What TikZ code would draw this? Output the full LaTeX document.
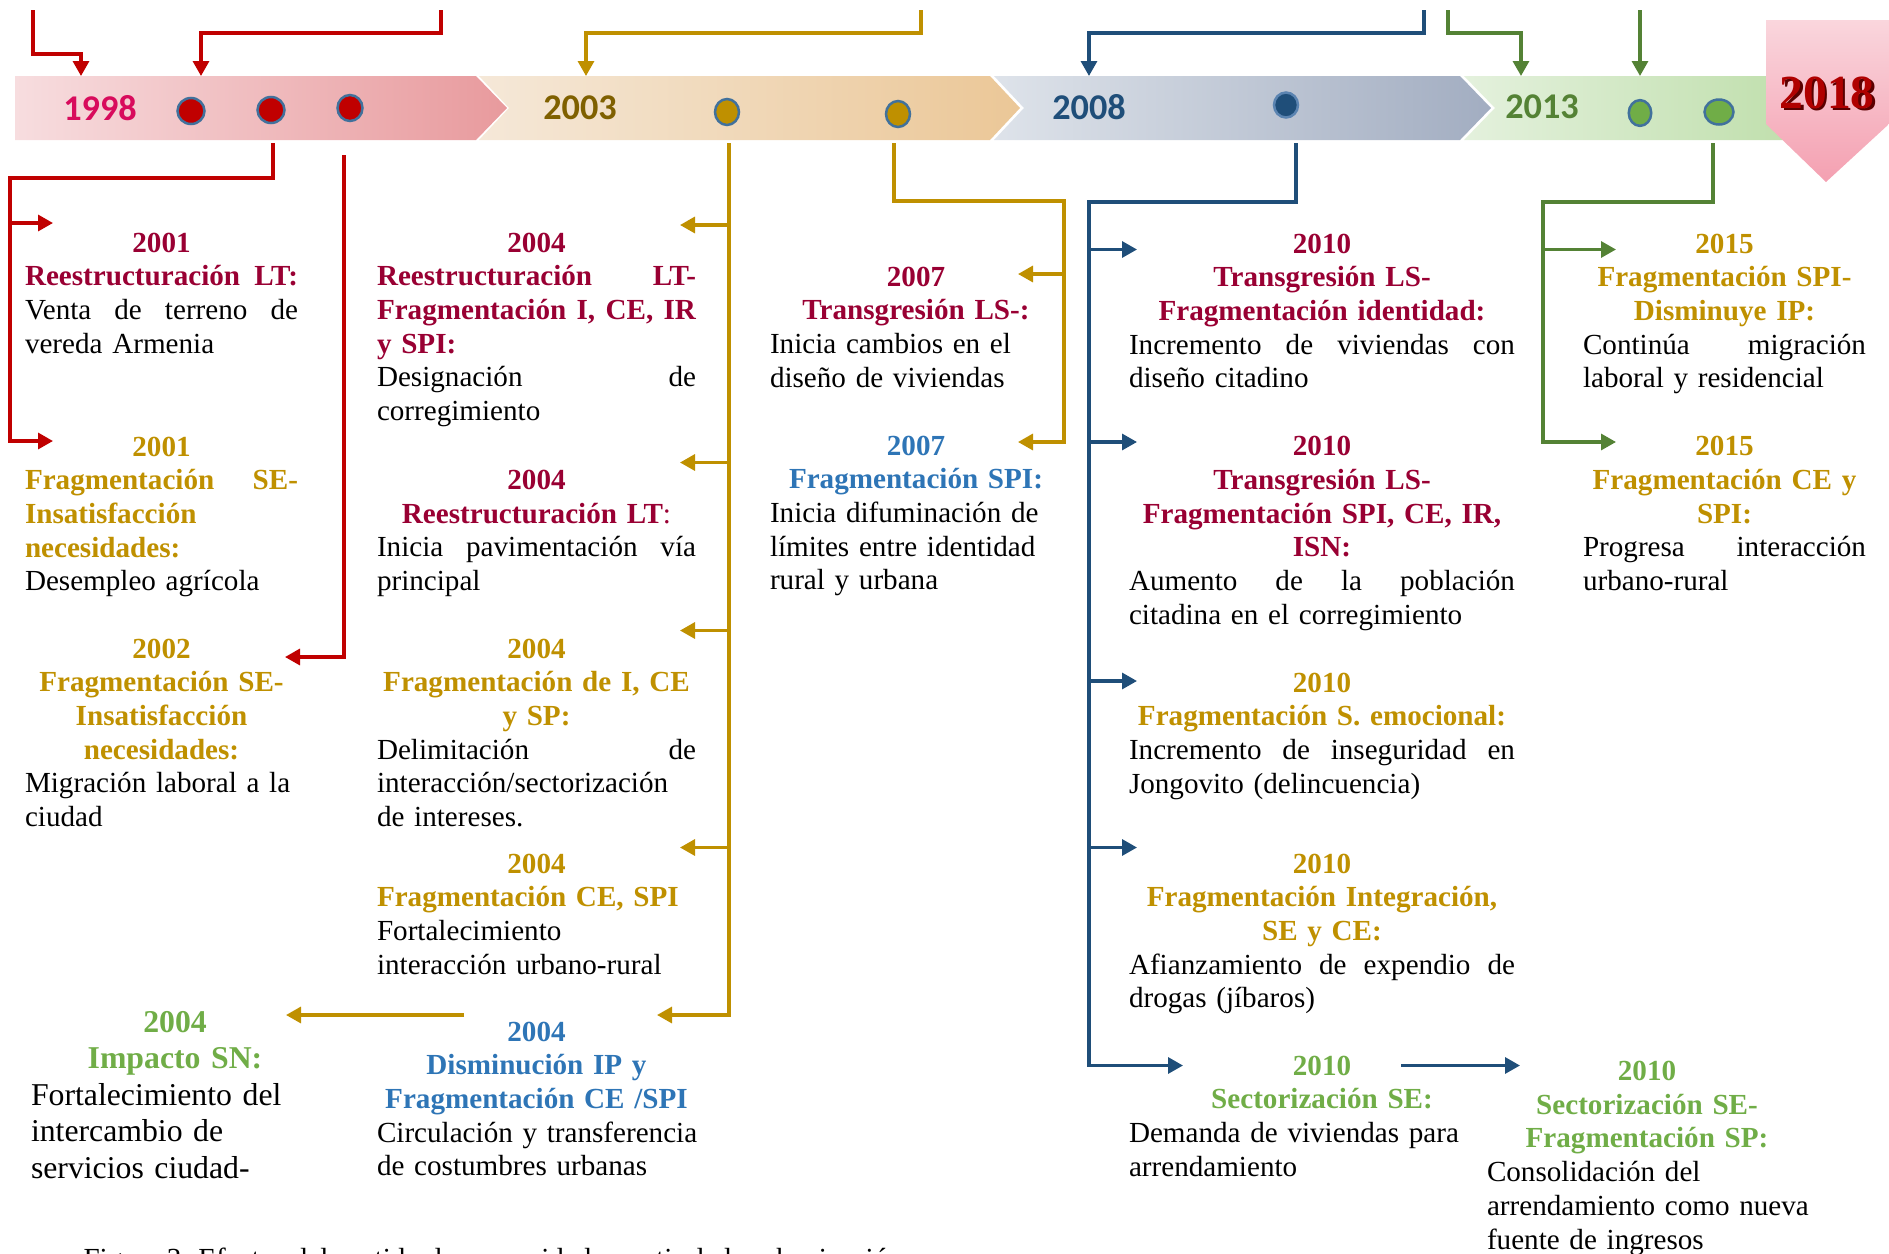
\documentclass[tikz,border=0pt]{standalone}
\usepackage{fontspec}
\setmainfont{Liberation Serif}
\newfontfamily\calfont{Carlito}
\usetikzlibrary{arrows.meta,shapes.geometric}
\definecolor{cRed}{HTML}{C00000}
\definecolor{cGold}{HTML}{BF9000}
\definecolor{cBlue}{HTML}{1F4E79}
\definecolor{cGreen}{HTML}{548235}
\definecolor{cDred}{HTML}{990033}
\definecolor{cTgold}{HTML}{BF9000}
\definecolor{cTblue}{HTML}{2E75B6}
\definecolor{cTgreen}{HTML}{70AD47}
\definecolor{cDotE}{HTML}{41719C}
\definecolor{y98}{HTML}{D80B5C}
\definecolor{y03}{HTML}{7F6000}
\definecolor{y08}{HTML}{1F4E79}
\definecolor{y13}{HTML}{548235}
\definecolor{y18}{HTML}{B00000}
\newcommand\fsN{\fontsize{11.65pt}{13.48pt}\selectfont}
\newcommand\fsB{\fontsize{12.7pt}{14.6pt}\selectfont}
\newcommand\Tr[1]{\textcolor{cDred}{\bfseries #1}}
\newcommand\Tg[1]{\textcolor{cTgold}{\bfseries #1}}
\newcommand\Tb[1]{\textcolor{cTblue}{\bfseries #1}}
\newcommand\Tn[1]{\textcolor{cTgreen}{\bfseries #1}}
\newcommand\JL[1]{\makebox[\hsize][s]{\spaceskip=.25em plus 1fil\xspaceskip=.25em plus 1fil\relax #1}}
\newcommand\CL[1]{\makebox[\hsize][c]{#1}}
\newcommand\LL[1]{\makebox[\hsize][l]{#1}}
\begin{document}
\begin{tikzpicture}[x=0.4pt,y=-0.4pt,
  ln/.style={line width=1.3pt},
  arr/.style={-{Triangle[length=6pt,width=6.4pt]}},
  lred/.style={ln,draw=cRed},
  lgold/.style={ln,draw=cGold},
  lblue/.style={ln,draw=cBlue},
  lgreen/.style={ln,draw=cGreen},
  blk/.style={anchor=base west,inner sep=0pt,outer sep=0pt,align=left,text width=#1,font=\fsN},
  yl/.style={font=\calfont\bfseries\fontsize{14.5pt}{17pt}\selectfont,inner sep=0pt},
  dotn/.style={ellipse,draw=cDotE,line width=1pt,inner sep=0pt}]
\useasboundingbox (0,0) rectangle (1889,1254);
% ---- timeline band ----
\shade[left color={rgb,255:red,247;green,221;blue,223},right color={rgb,255:red,232;green,154;blue,157}]
  (15,76) -- (476,76) -- (507,108) -- (476,140) -- (15,140) -- cycle;
\shade[left color={rgb,255:red,245;green,232;blue,216},right color={rgb,255:red,235;green,199;blue,151}]
  (479,76) -- (990,76) -- (1020,108) -- (990,140) -- (479,140) -- (509,108) -- cycle;
\shade[left color={rgb,255:red,222;green,227;blue,234},right color={rgb,255:red,162;green,173;blue,193}]
  (994,76) -- (1460,76) -- (1491,108) -- (1460,140) -- (994,140) -- (1024,108) -- cycle;
\shade[left color={rgb,255:red,228;green,241;blue,221},right color={rgb,255:red,190;green,222;blue,170}]
  (1464,76) -- (1810,76) -- (1810,140) -- (1464,140) -- (1495,108) -- cycle;
% 2018 arrow
\shade[top color={rgb,255:red,250;green,214;blue,221},bottom color={rgb,255:red,244;green,160;blue,177}]
  (1766,20) -- (1889,20) -- (1889,124) -- (1826,182) -- (1766,124) -- cycle;
\node[font=\bfseries\fontsize{19pt}{22pt}\selectfont,text={rgb,255:red,90;green,0;blue,0},inner sep=0pt] at (1829.5,95) {2018};
\node[font=\bfseries\fontsize{19pt}{22pt}\selectfont,text=y18,inner sep=0pt] (y2018) at (1827,93) {2018};
% year labels
\node[yl,text=y98] (y1998) at (100,108) {1998};
\node[yl,text=y03] (y2003) at (580,108) {2003};
\node[yl,text=y08] (y2008) at (1089,107) {2008};
\node[yl,text=y13] (y2013) at (1542,107) {2013};
% dots
\node[dotn,fill=cRed,minimum width=10.8pt,minimum height=10.4pt] (r1) at (191,111) {};
\node[dotn,fill=cRed,minimum width=10.8pt,minimum height=10.4pt] (r2) at (271,110) {};
\node[dotn,fill=cRed,minimum width=10pt,minimum height=10.4pt] (r3) at (350,108) {};
\node[dotn,fill=cGold,minimum width=9.6pt,minimum height=10.4pt] (g1) at (727,112) {};
\node[dotn,fill=cGold,minimum width=9.6pt,minimum height=10.4pt] (g2) at (898,114) {};
\node[dotn,draw={rgb,255:red,91;green,132;blue,177},fill=cBlue,minimum width=9.6pt,minimum height=10pt] (b1) at (1286,105) {};
\node[dotn,fill=cTgreen,minimum width=9pt,minimum height=10.3pt] (n1) at (1640,113) {};
\node[dotn,fill=cTgreen,minimum width=11.6pt,minimum height=10pt] (n2) at (1719,112) {};
% ---- incoming arrows from above ----
\coordinate (iR1) at (33,10);
\coordinate (iR2) at (441,10);
\coordinate (iG) at (921,10);
\coordinate (iB) at (1424,10);
\coordinate (iN1) at (1448,10);
\coordinate (iN2) at (1640,10);
\draw[lred,arr] (iR1) |- (81,54) -- (81,76);
\draw[lred,arr] (iR2) |- (201,33) -- (201,76);
\draw[lgold,arr] (iG) |- (586,33) -- (586,76);
\draw[lblue,arr] (iB) |- (1089,33) -- (1089,76);
\draw[lgreen,arr] (iN1) |- (1521,33) -- (1521,76);
\draw[lgreen,arr] (iN2) -- (1640,76);
% ---- text blocks ----
% column 1
\node[blk=109.2pt] (e1) at (25,252) {\CL{\Tr{2001}}\\\JL{\Tr{Reestructuración LT:}}\\\JL{Venta de terreno de}\\\LL{vereda Armenia}};
\node[blk=109.2pt] (e2) at (25,456) {\CL{\Tg{2001}}\\\JL{\Tg{Fragmentación SE-}}\\\LL{\Tg{Insatisfacción}}\\\LL{\Tg{necesidades:}}\\\LL{Desempleo agrícola}};
\node[blk=109.2pt] (e3) at (25,658) {\CL{\Tg{2002}}\\\CL{\Tg{Fragmentación SE-}}\\\CL{\Tg{Insatisfacción}}\\\CL{\Tg{necesidades:}}\\\LL{Migración laboral a la}\\\LL{ciudad}};
% column 2
\node[blk=127.6pt] (eA) at (377,252) {\CL{\Tr{2004}}\\\JL{\Tr{Reestructuración LT-}}\\\JL{\Tr{Fragmentación I, CE, IR}}\\\LL{\Tr{y SPI:}}\\\JL{Designación de}\\\LL{corregimiento}};
\node[blk=127.6pt] (eB) at (377,489.5) {\CL{\Tr{2004}}\\\CL{\Tr{Reestructuración LT}\textcolor{cDred}{:}}\\\JL{Inicia pavimentación vía}\\\LL{principal}};
\node[blk=127.6pt] (eC) at (377,658) {\CL{\Tg{2004}}\\\CL{\Tg{Fragmentación de I, CE}}\\\CL{\Tg{y SP:}}\\\JL{Delimitación de}\\\LL{interacción/sectorización}\\\LL{de intereses.}};
\node[blk=127.6pt] (eD) at (377,873) {\CL{\Tg{2004}}\\\LL{\Tg{Fragmentación CE, SPI}}\\\LL{Fortalecimiento}\\\LL{interacción urbano-rural}};
\node[blk=127.6pt] (eE) at (377,1041) {\CL{\Tb{2004}}\\\CL{\Tb{Disminución IP y}}\\\CL{\Tb{Fragmentación CE /SPI}}\\\LL{Circulación y transferencia}\\\LL{de costumbres urbanas}};
\node[blk=115.2pt,font=\fsB] (eI) at (31,1032) {\CL{\Tn{2004}}\\\CL{\Tn{Impacto SN:}}\\\LL{Fortalecimiento del}\\\LL{intercambio de}\\\LL{servicios ciudad-}};
% column 3
\node[blk=116.8pt] (eF) at (770,286) {\CL{\Tr{2007}}\\\CL{\Tr{Transgresión LS-:}}\\\LL{Inicia cambios en el}\\\LL{diseño de viviendas}};
\node[blk=116.8pt] (eG) at (770,455) {\CL{\Tb{2007}}\\\CL{\Tb{Fragmentación SPI:}}\\\LL{Inicia difuminación de}\\\LL{límites entre identidad}\\\LL{rural y urbana}};
% column 4
\node[blk=154.4pt] (eH) at (1129,253) {\CL{\Tr{2010}}\\\CL{\Tr{Transgresión LS-}}\\\CL{\Tr{Fragmentación identidad:}}\\\JL{Incremento de viviendas con}\\\LL{diseño citadino}};
\node[blk=154.4pt] (eJ) at (1129,455.7) {\CL{\Tr{2010}}\\\CL{\Tr{Transgresión LS-}}\\\CL{\Tr{Fragmentación SPI, CE, IR,}}\\\CL{\Tr{ISN:}}\\\JL{Aumento de la población}\\\LL{citadina en el corregimiento}};
\node[blk=154.4pt] (eK) at (1129,692) {\CL{\Tg{2010}}\\\CL{\Tg{Fragmentación S. emocional:}}\\\JL{Incremento de inseguridad en}\\\LL{Jongovito (delincuencia)}};
\node[blk=154.4pt] (eL) at (1129,873) {\CL{\Tg{2010}}\\\CL{\Tg{Fragmentación Integración,}}\\\CL{\Tg{SE y CE:}}\\\JL{Afianzamiento de expendio de}\\\LL{drogas (jíbaros)}};
\node[blk=154.4pt] (eM) at (1129,1075) {\CL{\Tn{2010}}\\\CL{\Tn{Sectorización SE:}}\\\LL{Demanda de viviendas para}\\\LL{arrendamiento}};
% column 5
\node[blk=113.2pt] (eN) at (1583,253) {\CL{\Tg{2015}}\\\CL{\Tg{Fragmentación SPI-}}\\\CL{\Tg{Disminuye IP:}}\\\JL{Continúa migración}\\\LL{laboral y residencial}};
\node[blk=113.2pt] (eO) at (1583,455.7) {\CL{\Tg{2015}}\\\CL{\Tg{Fragmentación CE y}}\\\CL{\Tg{SPI:}}\\\JL{Progresa interacción}\\\LL{urbano-rural}};
\node[blk=128pt] (eP) at (1487,1080.5) {\CL{\Tn{2010}}\\\CL{\Tn{Sectorización SE-}}\\\CL{\Tn{Fragmentación SP:}}\\\LL{Consolidación del}\\\LL{arrendamiento como nueva}\\\LL{fuente de ingresos}};
% ---- connectors below the band ----
% red
\coordinate (sR2) at (273,143);
\coordinate (sR3) at (344,155);
\draw[lred,arr] (sR2) |- (10,178) |- (53,441);
\draw[lred,arr] (10,223) -- (53,223);
\draw[lred,arr] (sR3) |- (285,657);
% gold
\coordinate (sG1) at (729,143);
\coordinate (sG2) at (894,143);
\draw[lgold,arr] (sG1) |- (657,1015);
\draw[lgold,arr] (729,225) -- (680,225);
\draw[lgold,arr] (729,462.5) -- (680,462.5);
\draw[lgold,arr] (729,630.5) -- (680,630.5);
\draw[lgold,arr] (729,847.5) -- (680,847.5);
\coordinate (gfree) at (464,1015);
\draw[lgold,arr] (gfree) -- (286,1015);
\draw[lgold,arr] (sG2) |- (1064,201) |- (1018,442);
\draw[lgold,arr] (1064,274) -- (1018,274);
% blue
\coordinate (sB) at (1296,143);
\draw[lblue,arr] (sB) |- (1089,202) |- (1183,1065.5);
\draw[lblue,arr] (1089,249.5) -- (1137,249.5);
\draw[lblue,arr] (1089,442) -- (1137,442);
\draw[lblue,arr] (1089,681) -- (1137,681);
\draw[lblue,arr] (1089,847.5) -- (1137,847.5);
\coordinate (bfree) at (1401,1065.5);
\draw[lblue,arr] (bfree) -- (1520,1065.5);
% green
\coordinate (sN) at (1713,143);
\draw[lgreen,arr] (sN) |- (1543,202) |- (1616,442);
\draw[lgreen,arr] (1543,249.5) -- (1616,249.5);
% caption (cut by the lower edge, as in the source)
\begin{scope}
\clip (0,0) rectangle (1889,1254);
\node[anchor=base west,inner sep=0pt,font=\fsN] (cap) at (83,1268) {Figura 3. Efectos del sentido de comunidad a partir de la urbanización};
\end{scope}
\end{tikzpicture}
\end{document}
